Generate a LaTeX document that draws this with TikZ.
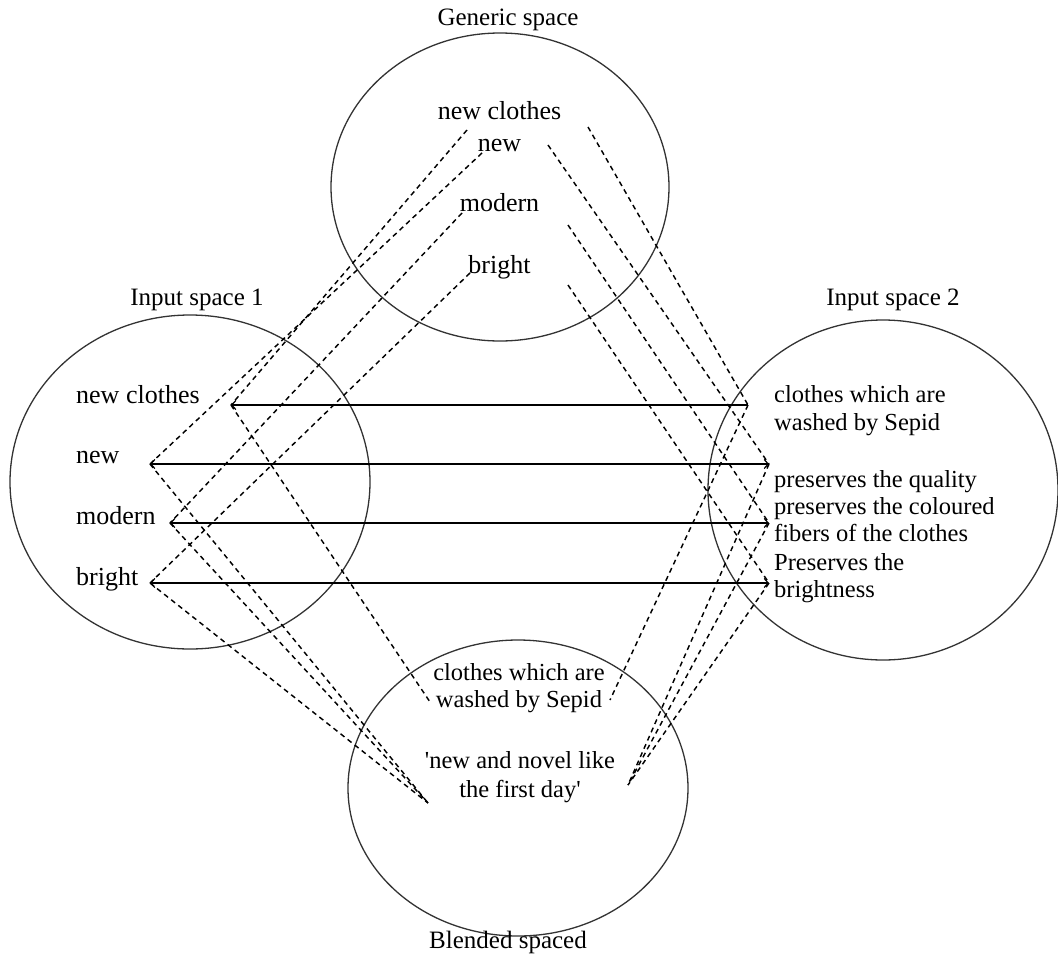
\documentclass[tikz,border=0pt]{standalone}
\usepackage{fontspec}
\setmainfont{Liberation Serif}
\usetikzlibrary{arrows.meta,shapes.geometric}
\begin{document}
\begin{tikzpicture}[x=1pt,y=-1pt,
  space/.style={draw=black!80, line width=1.3pt, ellipse, inner sep=0pt},
  title/.style={inner sep=0pt, anchor=base, font=\fontsize{25}{28}\selectfont},
  word/.style={inner sep=0pt, font=\fontsize{26}{28}\selectfont},
  txt/.style={inner sep=0pt, font=\fontsize{24.5}{28}\selectfont},
  link/.style={draw=black, line width=1.4pt},
  map/.style={draw=black, line width=1.45pt, dash pattern=on 5pt off 4pt},
  barb/.tip={Straight Barb[length=4pt,width=9pt,line width=1.2pt]}
]
\useasboundingbox (0,0) rectangle (1058,956);

% spaces
\node[space, minimum width=338pt, minimum height=308pt] (generic) at (500,187) {};
\node[space, minimum width=360pt, minimum height=334pt] (input1) at (190,482) {};
\node[space, minimum width=350pt, minimum height=340pt] (input2) at (883,490) {};
\node[space, minimum width=340pt, minimum height=296pt] (blend) at (518,788) {};

% titles
\node[title] (tgen) at (508,25) {Generic space};
\node[title] (tin1) at (197,305) {Input space 1};
\node[title] (tin2) at (893,305) {Input space 2};
\node[title] (tbl) at (508,948) {Blended spaced};

% generic space items
\node[word, anchor=base] (gnc) at (499.5,119) {new clothes};
\node[word, anchor=base] (gn) at (499.5,151) {new};
\node[word, anchor=base] (gm) at (499.5,211) {modern};
\node[word, anchor=base] (gb) at (499.5,273) {bright};

% input space 1 items
\node[word, anchor=base west] (anc) at (76,403) {new clothes};
\node[word, anchor=base west] (an) at (76,463) {new};
\node[word, anchor=base west] (am) at (76,524) {modern};
\node[word, anchor=base west] (ab) at (76,585) {bright};

% input space 2 items
\node[txt, anchor=base west] (bnc1) at (774,402) {clothes which are};
\node[txt, anchor=base west] (bnc2) at (774,430) {washed by Sepid};
\node[txt, anchor=base west] (bq) at (774,487) {preserves the quality};
\node[txt, anchor=base west] (bc1) at (774,514) {preserves the coloured};
\node[txt, anchor=base west] (bc2) at (774,541) {fibers of the clothes};
\node[txt, anchor=base west] (bb1) at (774,570) {Preserves the};
\node[txt, anchor=base west] (bb2) at (774,597) {brightness};

% blended space items
\node[txt, anchor=base] (cs1) at (519,680) {clothes which are};
\node[txt, anchor=base] (cs2) at (519,707) {washed by Sepid};
\node[txt, anchor=base] (cn1) at (520,768) {\textquotesingle new and novel like};
\node[txt, anchor=base] (cn2) at (520,797) {the first day\textquotesingle};

% connector end points
\coordinate (gncL) at (467,130);
\coordinate (gnL) at (482,153);
\coordinate (gmL) at (462,213);
\coordinate (gbL) at (470,273);
\coordinate (gncR) at (588,127);
\coordinate (gnR) at (548,145);
\coordinate (gmR) at (568,225);
\coordinate (gbR) at (568,285);
\coordinate (pnc) at (231,405);
\coordinate (pn) at (150,464);
\coordinate (pm) at (170,523);
\coordinate (pb) at (150,583);
\coordinate (qnc) at (748,405);
\coordinate (qn) at (769,464);
\coordinate (qm) at (769,523);
\coordinate (qb) at (769,583);
\coordinate (bsL) at (430,702);
\coordinate (bnL) at (428,803);
\coordinate (bsR) at (610,700);
\coordinate (bnR) at (628,785);

% cross-space mappings
\draw[link, -barb] (qnc) -- (pnc);
\draw[link, barb-barb] (pn) -- (qn);
\draw[link, barb-barb] (pm) -- (qm);
\draw[link, barb-barb] (pb) -- (qb);

% generic to inputs
\draw[map] (gncL) -- (pnc);
\draw[map] (gnL) -- (pn);
\draw[map] (gmL) -- (pm);
\draw[map] (gbL) -- (pb);
\draw[map] (gncR) -- (qnc);
\draw[map] (gnR) -- (qn);
\draw[map] (gmR) -- (qm);
\draw[map] (gbR) -- (qb);

% inputs to blend
\draw[map] (pnc) -- (bsL);
\draw[map] (pn) -- (bnL);
\draw[map] (pm) -- (bnL);
\draw[map] (pb) -- (bnL);
\draw[map] (qnc) -- (bsR);
\draw[map] (qn) -- (bnR);
\draw[map] (qm) -- (bnR);
\draw[map] (qb) -- (bnR);
\end{tikzpicture}
\end{document}
